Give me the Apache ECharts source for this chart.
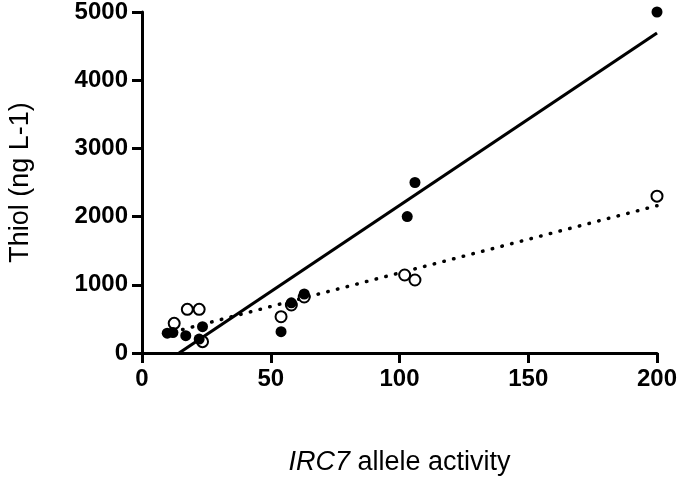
<!DOCTYPE html>
<html>
<head>
<meta charset="utf-8">
<script src="https://cdn.jsdelivr.net/npm/echarts@6/dist/echarts.min.js"></script>
<style>
  html, body { margin: 0; padding: 0; background: #fff; }
  #chart { width: 680px; height: 484px; }
</style>
</head>
<body>
<div id="chart"></div>
<script>
// Filled circles (solid regression)
var filledX = [200, 106, 103, 63, 58, 54, 23.5, 22.2, 17, 12, 9.8];
var filledY = [5000, 2500, 2000, 865, 735, 313, 386, 205, 254, 300, 290];
// Open circles (dotted regression)
var openX = [200, 106, 102, 63, 58, 54, 23.5, 22.2, 17.6, 12.5];
var openY = [2300, 1070, 1144, 821, 704, 532, 166, 640, 640, 435];
// Fitted line end points
var solidFitX = [14.4, 200];
var solidFitY = [0, 4692];
var dottedFitX = [12, 200];
var dottedFitY = [307, 2160];
// Axis ticks
var xTicks = [0, 50, 100, 150, 200];
var yTicks = [0, 1000, 2000, 3000, 4000, 5000];

function pairs(xs, ys) { return xs.map(function (x, i) { return [x, ys[i]]; }); }

var chart = echarts.init(document.getElementById('chart'), null, { renderer: 'canvas' });
var FONT = 'Liberation Sans, Arial, sans-serif';
var axisCommon = {
  axisLine: { show: true, onZero: false, lineStyle: { color: '#000', width: 3 } },
  axisTick: { show: true, length: 10, lineStyle: { color: '#000', width: 3 } },
  splitLine: { show: false },
  nameLocation: 'middle',
  nameTextStyle: { color: '#000', fontFamily: FONT, fontSize: 27 }
};
function labelStyle() {
  return {
    color: '#000', fontFamily: FONT, fontWeight: 'bold', fontSize: 24, margin: 14,
    formatter: function (v) { return String(v); }
  };
}
chart.setOption({
  animation: false,
  backgroundColor: '#fff',
  grid: { left: 142, right: 23, top: 12, bottom: 131, containLabel: false, outerBoundsMode: 'none' },
  xAxis: Object.assign({}, axisCommon, {
    type: 'value', min: xTicks[0], max: xTicks[xTicks.length - 1], interval: xTicks[1] - xTicks[0],
    axisLabel: labelStyle(),
    name: '{i|IRC7} allele activity',
    nameGap: 96,
    nameTextStyle: Object.assign({}, axisCommon.nameTextStyle, {
      rich: { i: { fontStyle: 'italic', fontSize: 27, fontFamily: FONT, color: '#000' } }
    })
  }),
  yAxis: Object.assign({}, axisCommon, {
    type: 'value', min: yTicks[0], max: yTicks[yTicks.length - 1], interval: yTicks[1] - yTicks[0],
    axisLabel: labelStyle(),
    name: 'Thiol (ng L-1)',
    nameGap: 108
  }),
  series: [
    {
      type: 'line', data: pairs(dottedFitX, dottedFitY), symbol: 'none', silent: true,
      lineStyle: { color: '#000', width: 3.5, type: [0.5, 9.5], cap: 'round' }, z: 2
    },
    {
      type: 'line', data: pairs(solidFitX, solidFitY), symbol: 'none', silent: true,
      lineStyle: { color: '#000', width: 3.2 }, z: 2
    },
    {
      type: 'scatter', data: pairs(openX, openY), symbol: 'circle', symbolSize: 11,
      itemStyle: { color: '#fff', borderColor: '#000', borderWidth: 2, opacity: 1 }, z: 3
    },
    {
      type: 'scatter', data: pairs(filledX, filledY), symbol: 'circle', symbolSize: 11,
      itemStyle: { color: '#000', opacity: 1 }, z: 4
    }
  ]
});
</script>
</body>
</html>
